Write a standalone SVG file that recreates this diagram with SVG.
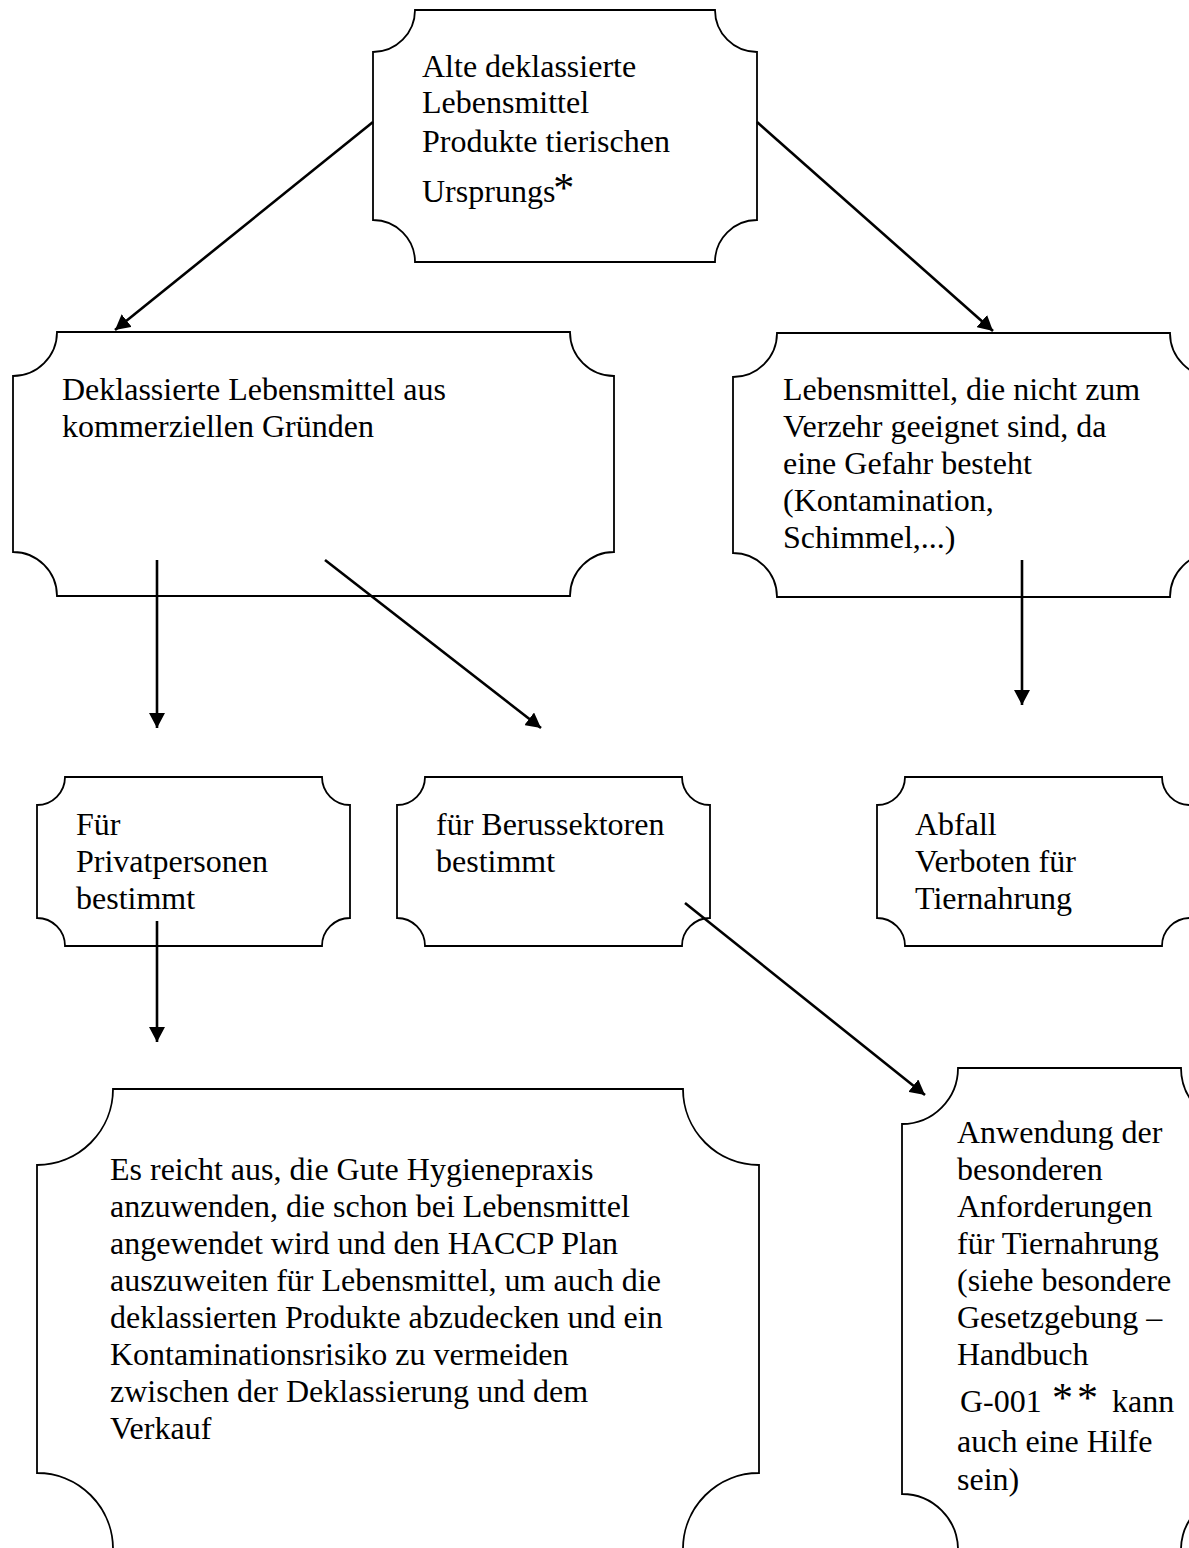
<svg xmlns="http://www.w3.org/2000/svg" width="1189" height="1548" viewBox="0 0 1189 1548">
<style>
.box{fill:#fff;stroke:#000;stroke-width:1.8}
.t{font-family:"Liberation Serif","Times New Roman",serif;font-size:32px;fill:#000}
.ast{font-size:42px}
.c{stroke:#000;stroke-width:2.6;fill:none}
</style>
<defs>
<marker id="ah" markerUnits="userSpaceOnUse" markerWidth="16" markerHeight="16" refX="15" refY="8" orient="auto">
<path d="M0,0 L15,8 L0,16 Z" fill="#000"/>
</marker>
</defs>
<rect width="1189" height="1548" fill="#fff"/>
<g id="nodes">
<g id="n-alte">
<path class="box" d="M415,10 H715 A42,42 0 0 0 757,52 V220 A42,42 0 0 0 715,262 H415 A42,42 0 0 0 373,220 V52 A42,42 0 0 0 415,10 Z"/>
<text class="t" x="422" y="77">Alte deklassierte</text>
<text class="t" x="422" y="113">Lebensmittel</text>
<text class="t" x="422" y="152">Produkte tierischen</text>
<text class="t" x="422" y="202">Ursprungs<tspan class="ast" dx="-2">*</tspan></text>
</g>
<g id="n-kommerziell">
<path class="box" d="M57,332 H570 A44,44 0 0 0 614,376 V552 A44,44 0 0 0 570,596 H57 A44,44 0 0 0 13,552 V376 A44,44 0 0 0 57,332 Z"/>
<text class="t" x="62" y="400">Deklassierte Lebensmittel aus</text>
<text class="t" x="62" y="437">kommerziellen Gründen</text>
</g>
<g id="n-gefahr">
<path class="box" d="M777,333 H1170 A44,44 0 0 0 1214,377 V553 A44,44 0 0 0 1170,597 H777 A44,44 0 0 0 733,553 V377 A44,44 0 0 0 777,333 Z"/>
<text class="t" x="783" y="400">Lebensmittel, die nicht zum</text>
<text class="t" x="783" y="437">Verzehr geeignet sind, da</text>
<text class="t" x="783" y="474">eine Gefahr besteht</text>
<text class="t" x="783" y="511">(Kontamination,</text>
<text class="t" x="783" y="548">Schimmel,...)</text>
</g>
<g id="n-privat">
<path class="box" d="M65,777 H322 A28,28 0 0 0 350,805 V918 A28,28 0 0 0 322,946 H65 A28,28 0 0 0 37,918 V805 A28,28 0 0 0 65,777 Z"/>
<text class="t" x="76" y="835">Für</text>
<text class="t" x="76" y="872">Privatpersonen</text>
<text class="t" x="76" y="909">bestimmt</text>
</g>
<g id="n-beruf">
<path class="box" d="M425,777 H682 A28,28 0 0 0 710,805 V918 A28,28 0 0 0 682,946 H425 A28,28 0 0 0 397,918 V805 A28,28 0 0 0 425,777 Z"/>
<text class="t" x="436" y="835">für Berussektoren</text>
<text class="t" x="436" y="872">bestimmt</text>
</g>
<g id="n-abfall">
<path class="box" d="M905,777 H1162 A28,28 0 0 0 1190,805 V918 A28,28 0 0 0 1162,946 H905 A28,28 0 0 0 877,918 V805 A28,28 0 0 0 905,777 Z"/>
<text class="t" x="915" y="835">Abfall</text>
<text class="t" x="915" y="872">Verboten für</text>
<text class="t" x="915" y="909">Tiernahrung</text>
</g>
<g id="n-hygiene">
<path class="box" d="M113,1089 H683 A76,76 0 0 0 759,1165 V1473 A76,76 0 0 0 683,1549 H113 A76,76 0 0 0 37,1473 V1165 A76,76 0 0 0 113,1089 Z"/>
<text class="t" x="110" y="1180">Es reicht aus, die Gute Hygienepraxis</text>
<text class="t" x="110" y="1217">anzuwenden, die schon bei Lebensmittel</text>
<text class="t" x="110" y="1254">angewendet wird und den HACCP Plan</text>
<text class="t" x="110" y="1291">auszuweiten für Lebensmittel, um auch die</text>
<text class="t" x="110" y="1328">deklassierten Produkte abzudecken und ein</text>
<text class="t" x="110" y="1365">Kontaminationsrisiko zu vermeiden</text>
<text class="t" x="110" y="1402">zwischen der Deklassierung und dem</text>
<text class="t" x="110" y="1439">Verkauf</text>
</g>
<g id="n-tiernahrung">
<path class="box" d="M958,1068 H1181 A56,56 0 0 0 1237,1124 V1494 A56,56 0 0 0 1181,1550 H958 A56,56 0 0 0 902,1494 V1124 A56,56 0 0 0 958,1068 Z"/>
<text class="t" x="957" y="1143">Anwendung der</text>
<text class="t" x="957" y="1180">besonderen</text>
<text class="t" x="957" y="1217">Anforderungen</text>
<text class="t" x="957" y="1254">für Tiernahrung</text>
<text class="t" x="957" y="1291">(siehe besondere</text>
<text class="t" x="957" y="1328">Gesetzgebung –</text>
<text class="t" x="957" y="1365">Handbuch</text>
<text class="t" x="960" y="1412">G-001<tspan class="ast" x="1052" letter-spacing="4">**</tspan><tspan x="1112">kann</tspan></text>
<text class="t" x="957" y="1452">auch eine Hilfe</text>
<text class="t" x="957" y="1490">sein)</text>
</g>
</g>
<g id="connectors">
<line class="c" x1="373" y1="122" x2="115" y2="330" marker-end="url(#ah)"/>
<line class="c" x1="757" y1="122" x2="993" y2="331" marker-end="url(#ah)"/>
<line class="c" x1="157" y1="560" x2="157" y2="728" marker-end="url(#ah)"/>
<line class="c" x1="325" y1="560" x2="541" y2="728" marker-end="url(#ah)"/>
<line class="c" x1="1022" y1="560" x2="1022" y2="705" marker-end="url(#ah)"/>
<line class="c" x1="157" y1="921" x2="157" y2="1042" marker-end="url(#ah)"/>
<line class="c" x1="685" y1="903" x2="925" y2="1095" marker-end="url(#ah)"/>
</g>
</svg>
